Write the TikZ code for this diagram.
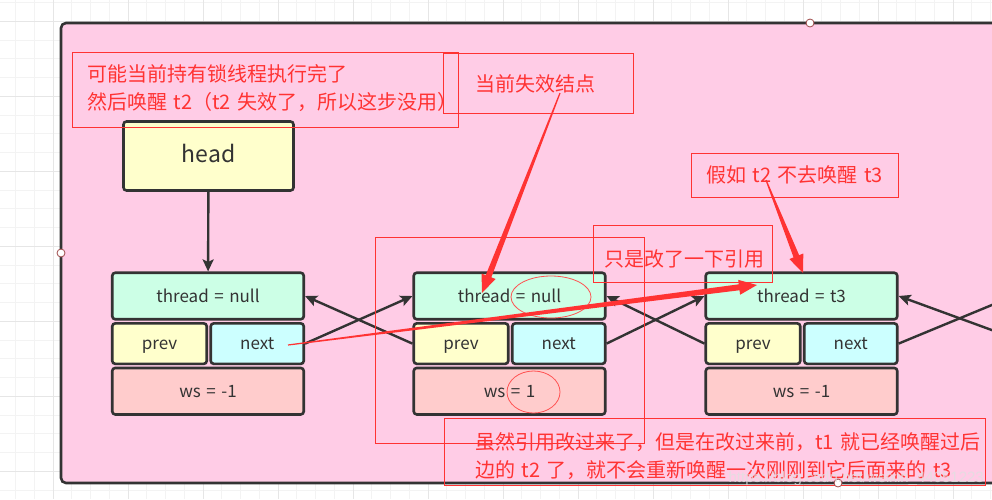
\documentclass[tikz,border=0pt]{standalone}
\usepackage{fontspec}
\setmainfont[WordSpace=1.45]{Noto Sans CJK SC}
\newfontfamily\markfont{Liberation Sans}
\usepackage{xcolor}
\definecolor{ListPink}{HTML}{FFCCE6}
\definecolor{NodeLine}{HTML}{333333}
\definecolor{ThreadMint}{HTML}{CCFFE6}
\definecolor{PrevYellow}{HTML}{FFFFCC}
\definecolor{NextCyan}{HTML}{CCFFFF}
\definecolor{WsRose}{HTML}{FFCCCC}
\definecolor{AnnRed}{HTML}{FF3333}
\definecolor{HandleRim}{HTML}{9E4A4A}
\definecolor{GridMinor}{HTML}{F3F3F3}
\definecolor{GridMajor}{HTML}{E6E6E6}
\usetikzlibrary{calc, positioning, arrows.meta}

% tapered red pointer: thin at #1, arrow head at #2
\newcommand{\taperarrow}[2]{%
    \coordinate (tb) at ($(#2)!18pt!(#1)$);
    \fill[AnnRed] ($(#1)!0.6pt!90:(#2)$) -- ($(tb)!3pt!90:(#2)$) -- ($(tb)!7.5pt!90:(#2)$) -- (#2)
        -- ($(tb)!7.5pt!-90:(#2)$) -- ($(tb)!3pt!-90:(#2)$) -- ($(#1)!0.6pt!-90:(#2)$) -- cycle;
}

\begin{document}
\begin{tikzpicture}[
    x=1pt, y=-1pt,
    >={Stealth[length=12pt, width=11pt, inset=2.5pt]},
    cell/.style={draw=NodeLine, line width=2.6pt, rounded corners=3pt, text=NodeLine, font=\fontsize{17}{20}\selectfont, inner sep=0pt, text height=1.25em, text depth=0.05em},
    link/.style={->, draw=NodeLine, line width=2.4pt},
    note_box/.style={draw=AnnRed, line width=0.9pt, inner sep=0pt},
    note_text/.style={text=AnnRed, font=\fontsize{20}{28}\selectfont, align=left, inner sep=0pt},
    note_line/.style={AnnRed, line width=0.9pt},
    ring/.style={draw=AnnRed!85, line width=0.8pt},
    handle/.style={circle, draw=HandleRim, fill=white, line width=0.8pt, minimum size=8pt, inner sep=0pt}
]
    \useasboundingbox (0,0) rectangle (992,499);
    \clip (0,0) rectangle (992,499);

    % 1. CANVAS GRID
    \fill[white] (0,0) rectangle (992,499);
    \foreach \gx in {15.5, 34.25, ..., 992} { \draw[GridMinor, line width=0.6pt] (\gx,0) -- (\gx,499); }
    \foreach \gy in {2.5, 21.25, ..., 499} { \draw[GridMinor, line width=0.6pt] (0,\gy) -- (992,\gy); }
    \foreach \gx in {53, 128, ..., 992} { \draw[GridMajor, line width=0.6pt] (\gx,0) -- (\gx,499); }
    \foreach \gy in {21.25, 96.25, ..., 499} { \draw[GridMajor, line width=0.6pt] (0,\gy) -- (992,\gy); }

    % 2. PINK CONTAINER
    \draw[NodeLine, fill=ListPink, line width=2.6pt, rounded corners=5pt] (61,23) rectangle (1010,483);

    % 3. HEAD AND QUEUE NODES
    \node[cell, fill=PrevYellow, minimum width=170pt, minimum height=69pt, font=\fontsize{23}{26}\selectfont] (head) at (208.5,156) {head};

    \foreach \cx/\id/\thr/\wsv in {208/n1/null/-1, 509.5/n2/null/1, 801.5/n3/t3/-1} {
        \node[cell, fill=ThreadMint, minimum width=191.5pt, minimum height=46.5pt] (\id-thr) at (\cx,296) {thread = \thr};
        \node[cell, fill=PrevYellow, minimum width=94.5pt, minimum height=40.5pt, anchor=north west] (\id-prev) at ([yshift=-1.5pt]\id-thr.south west) {prev};
        \node[cell, fill=NextCyan, minimum width=93pt, minimum height=40.5pt, anchor=north east] (\id-next) at ([yshift=-1.5pt]\id-thr.south east) {next};
        \node[cell, fill=WsRose, minimum width=191.5pt, minimum height=46.5pt, anchor=north west] (\id-ws) at ([yshift=-1.5pt]\id-prev.south west) {ws = \wsv};
    }

    % 4. PREV / NEXT LINKS
    \draw[link] (head) -- (n1-thr);
    \draw[link] (n1-next.east) -- (n2-thr.west);
    \draw[link] (n2-prev.west) -- (n1-thr.east);
    \draw[link] (n2-next.east) -- (n3-thr.west);
    \draw[link] (n3-prev.west) -- (n2-thr.east);
    \coordinate (off-up) at (1010,297.5);
    \coordinate (off-down) at (1010,336.7);
    \draw[link, -] (n3-next.east) -- (off-up);
    \draw[link] (off-down) -- (n3-thr.east);

    % 5. RED NOTES
    \node[note_box, minimum width=386pt, minimum height=75pt] (note-wake) at (265,89.5) {};
    \node[note_text, anchor=west] (wake-text) at (87,88) {可能当前持有锁线程执行完了\\然后唤醒 t2（t2 失效了，所以这步没用）};

    \node[note_box, minimum width=190pt, minimum height=60pt] (note-dead) at (538,83) {};
    \node[note_text] (dead-text) at (535,84) {当前失效结点};

    \node[note_box, minimum width=207pt, minimum height=44pt] (note-skip) at (794.5,175) {};
    \node[note_text] (skip-text) at (794.5,175) {假如 t2 不去唤醒 t3};

    \draw[note_line] (375,237) rectangle (644,443);

    \node[note_box, minimum width=179pt, minimum height=57pt] (note-ref) at (682.5,253.5) {};
    \node[note_text] (ref-text) at (684,259) {只是改了一下引用};

    \node[note_box, minimum width=541pt, minimum height=67pt] (note-late) at (714.5,451.5) {};
    \node[note_text, anchor=west] (late-text) at (475,456) {虽然引用改过来了，但是在改过来前，t1 就已经唤醒过后\\边的 t2 了，就不会重新唤醒一次刚刚到它后面来的 t3};

    \draw[ring] (551,297) ellipse [x radius=40pt, y radius=21pt];
    \draw[ring] (533.5,392) ellipse [x radius=26.5pt, y radius=21pt];

    % 6. RED POINTERS
    \coordinate (dead-from) at (560,93);
    \coordinate (dead-to) at (482,293);
    \coordinate (skip-from) at (766,180);
    \coordinate (skip-to) at (803,273);
    \coordinate (ref-from) at (288,345);
    \coordinate (ref-to) at (757,285);
    \taperarrow{dead-from}{dead-to}
    \taperarrow{skip-from}{skip-to}
    \taperarrow{ref-from}{ref-to}

    % 7. SELECTION HANDLES AND WATERMARK
    \node[handle] (grip-top) at (810,23) {};
    \node[handle] (grip-left) at (61,253) {};
    \node[handle] (grip-bottom) at (838,483) {};
    \node[text=white!88!black, opacity=0.8, font=\markfont\fontsize{15}{18}\selectfont, anchor=east, inner sep=0pt] (mark) at (984,479) {https://blog.csdn.net/weixin\_44051223};
\end{tikzpicture}
\end{document}
